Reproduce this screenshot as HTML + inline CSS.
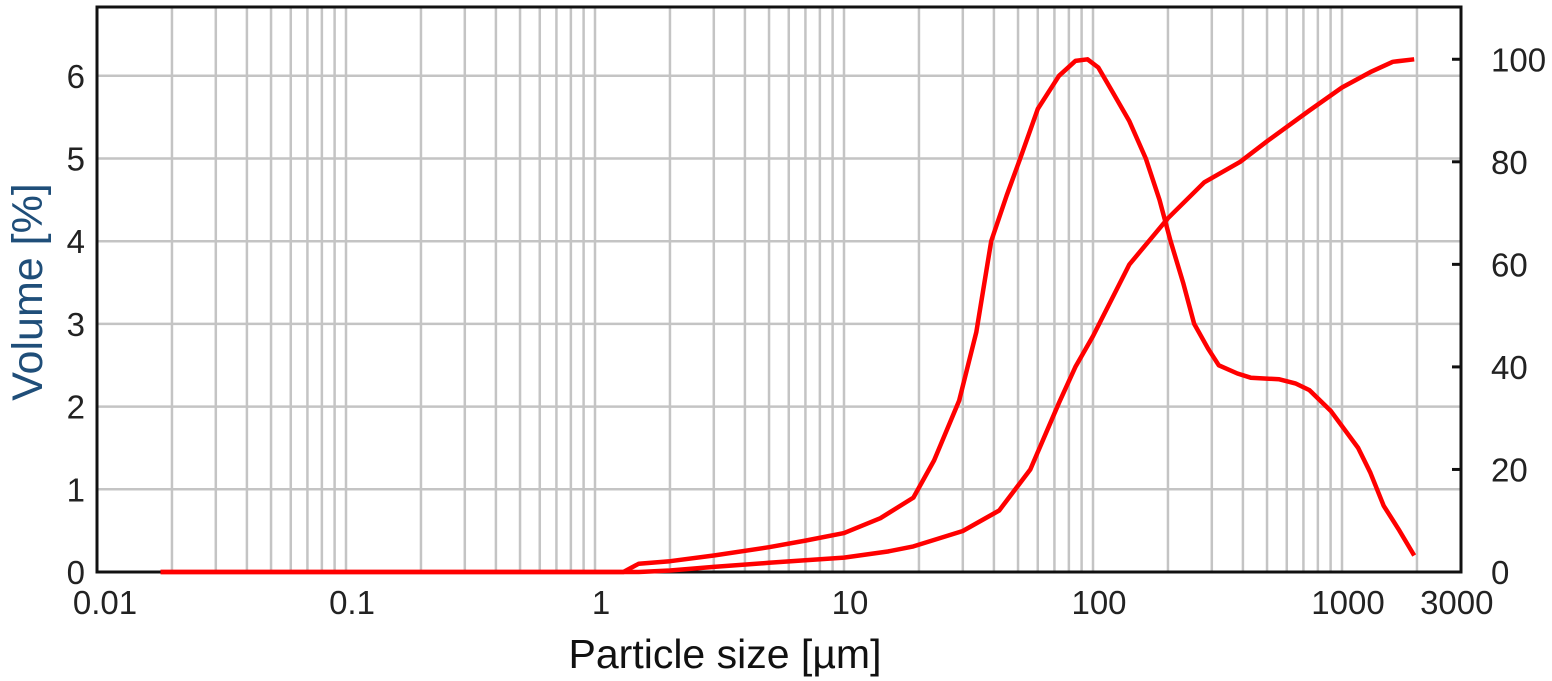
<!DOCTYPE html>
<html><head><meta charset="utf-8">
<style>
html,body{margin:0;padding:0;background:#fff;}
svg{display:block;font-family:"Liberation Sans","DejaVu Sans",sans-serif;}
</style></head>
<body>
<svg id="chart" width="1552" height="681" viewBox="0 0 1552 681" xmlns="http://www.w3.org/2000/svg">
<g id="grid"></g>
<g id="axes"></g>
<g id="series"></g>
<text x="725" y="668" font-size="41" text-anchor="middle" fill="#111">Particle size [µm]</text>
<text transform="translate(42,292) rotate(-90)" font-size="43" text-anchor="middle" fill="#1f4e79">Volume [%]</text>
</svg>
<script>
const xTickLabels = ["0.01","0.1","1","10","100","1000","3000"];
const xTickValues = [0.01,0.1,1,10,100,1000,3000];
const yLeftTicks = [0,1,2,3,4,5,6];
const yRightTicks = [0,20,40,60,80,100];
const distSizes = [0.018,1.3,1.5,2,3,5,7,10,14,19,23,29,34,39,45,51,60,73,85,95,105,120,140,163,185,205,230,255,290,320,380,430,560,650,740,900,1160,1300,1470,1700,1950];
const distValues = [0,0,0.1,0.13,0.2,0.3,0.38,0.47,0.65,0.9,1.35,2.07,2.9,4.0,4.55,5.0,5.6,6.0,6.18,6.2,6.1,5.8,5.45,5.0,4.5,4.0,3.5,3.0,2.7,2.5,2.4,2.35,2.33,2.28,2.2,1.95,1.5,1.2,0.8,0.5,0.2];
const cumSizes = [0.018,1.5,2,3,5,7,10,15,19,30,42,56,73,85,100,140,200,280,390,500,740,1000,1300,1600,1950];
const cumValues = [0,0,0.3,1,1.8,2.3,2.8,4,5,8,12,20,33,40,46,60,69,76,80,84,90,94.5,97.5,99.5,100];

const X0=97, DEC=249, YB=572, UNIT=82.7, TOP=7, RIGHT=1461;
function xs(v){return X0+DEC*Math.log10(v/0.01);}
function yl(v){return YB-UNIT*v;}
function yr(p){return YB-UNIT*6.2*p/100;}
const NS="http://www.w3.org/2000/svg";
function mk(tag,attrs,parent){const e=document.createElementNS(NS,tag);for(const k in attrs)e.setAttribute(k,attrs[k]);parent.appendChild(e);return e;}
const grid=document.getElementById('grid'), axes=document.getElementById('axes'), series=document.getElementById('series');
for(let d=-2; d<=3; d++){
  for(let m=1;m<=9;m++){
    const v=m*Math.pow(10,d);
    if(v<=0.0100001||v>3000) continue;
    const l=mk('line',{x1:xs(v),x2:xs(v),y1:TOP,y2:YB,stroke:'#c4c4c4','stroke-width':2.5},grid);
    
    
  }
}
yLeftTicks.forEach(t=>{
  if(t===0) return;
  const l=mk('line',{x1:X0,x2:RIGHT,y1:yl(t),y2:yl(t),stroke:'#c4c4c4','stroke-width':2.5},grid);
  
  
});
const fr=mk('path',{d:`M${X0} ${TOP}H${RIGHT}V${YB}H${X0}Z`,fill:'none',stroke:'#111','stroke-width':3},axes);


yLeftTicks.forEach(t=>{
  const tx=mk('text',{x:X0-12,y:yl(t)+12,'font-size':33,'text-anchor':'end',fill:'#222'},axes);
  tx.textContent=t;
  
  
});
yRightTicks.forEach(t=>{
  const tk=mk('line',{x1:RIGHT-9,x2:RIGHT,y1:yr(t),y2:yr(t),stroke:'#111','stroke-width':3},axes);
  
  
  const tx=mk('text',{x:RIGHT+30,y:yr(t)+12,'font-size':33,'text-anchor':'start',fill:'#222'},axes);
  tx.textContent=t;
  
  
});
xTickValues.forEach((v,i)=>{
  const tx=mk('text',{x:xs(v)+(i===0?8:(i===6?-4:6)),y:614,'font-size':33,'text-anchor':'middle',fill:'#222'},axes);
  tx.textContent=xTickLabels[i];
  
  
});
function pathFrom(xsArr,ysArr,yf){
  return xsArr.map((s,i)=>(i?'L':'M')+xs(s).toFixed(1)+' '+yf(ysArr[i]).toFixed(1)).join(' ');
}
const p1=mk('path',{d:pathFrom(cumSizes,cumValues,yr),fill:'none',stroke:'#ff0000','stroke-width':4.5,'stroke-linejoin':'round'},series);


const p2=mk('path',{d:pathFrom(distSizes,distValues,yl),fill:'none',stroke:'#ff0000','stroke-width':4.5,'stroke-linejoin':'round'},series);


</script>
</body></html>
